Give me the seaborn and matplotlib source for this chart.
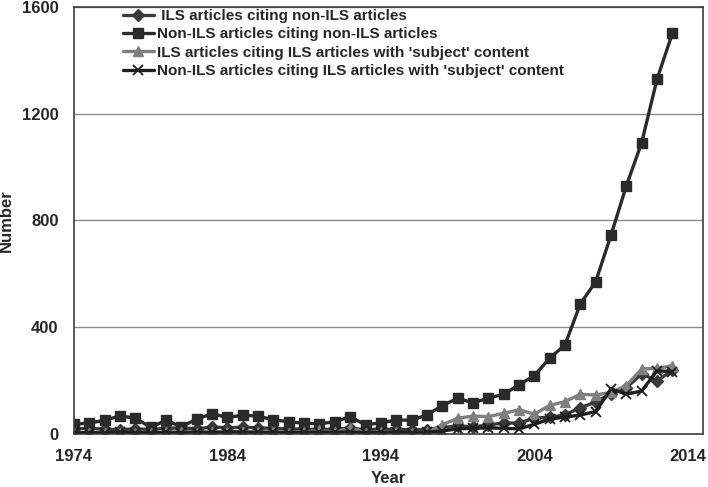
import matplotlib
matplotlib.use("Agg")
import matplotlib.pyplot as plt
import numpy as np
import pandas as pd
import seaborn as sns

years = list(range(1974, 2014))

ils_citing_non_ils = [
    18, 20, 17, 15, 18, 16, 20, 22, 18, 25, 22, 24, 22, 20, 18, 17, 15, 18, 20, 15,
    17, 16, 14, 15, 22, 30, 25, 33, 40, 40, 58, 62, 70, 98, 118, 150, 172, 225, 198, 238,
]
non_ils_citing_non_ils = [
    35, 40, 50, 67, 58, 24, 50, 26, 55, 75, 61, 69, 66, 52, 45, 39, 37, 45, 64, 33,
    41, 51, 51, 70, 105, 133, 116, 133, 148, 183, 218, 283, 333, 487, 570, 745, 930, 1092, 1330, 1502,
]
ils_citing_ils_subject = [
    2, 3, 2, 4, 3, 2, 5, 8, 4, 6, 5, 8, 6, 5, 4, 6, 12, 5, 22, 4,
    8, 5, 3, 6, 33, 58, 66, 64, 76, 90, 73, 106, 120, 148, 145, 155, 180, 243, 245, 255,
]
non_ils_citing_ils_subject = [
    3, 4, 3, 5, 4, 3, 5, 4, 6, 5, 7, 6, 5, 6, 4, 5, 6, 5, 7, 4,
    5, 6, 4, 5, 10, 18, 20, 22, 20, 18, 35, 55, 62, 70, 83, 168, 148, 160, 236, 233,
]

labels = [
    " ILS articles citing non-ILS articles",
    "Non-ILS articles citing non-ILS articles",
    "ILS articles citing ILS articles with 'subject' content",
    "Non-ILS articles citing ILS articles with 'subject' content",
]
x_ticks = [1974, 1984, 1994, 2004, 2014]
y_ticks = [0, 400, 800, 1200, 1600]

sns.set_style("white")
plt.rcParams["font.family"] = ["Liberation Sans", "DejaVu Sans"]
plt.rcParams["font.weight"] = "bold"

fig, ax = plt.subplots(figsize=(7.08, 4.87), dpi=100)
fig.subplots_adjust(left=0.1045, right=0.993, top=0.985, bottom=0.1095)

series = [ils_citing_non_ils, non_ils_citing_non_ils, ils_citing_ils_subject, non_ils_citing_ils_subject]
styles = [
    dict(marker="D", color="#3a3a3a", markersize=6, markeredgewidth=1),
    dict(marker="s", color="#2a2a2a", markersize=7.5, markeredgewidth=1),
    dict(marker="^", color="#7f7f7f", markersize=7.5, markeredgewidth=1),
    dict(marker="x", color="#1e1e1e", markersize=7, markeredgewidth=1.3),
]

for label, values, style in zip(labels, series, styles):
    frame = pd.DataFrame({"Year": years, "Number": values})
    sns.lineplot(
        data=frame, x="Year", y="Number", ax=ax, label=label,
        linewidth=2.4, markeredgecolor=style["color"], **style,
    )

ax.set_xlim(1974, 2015)
ax.set_ylim(0, 1600)
ax.set_xticks(x_ticks)
ax.set_yticks(y_ticks)
ax.yaxis.grid(True, color="#8a8a8a", linewidth=1)
ax.set_axisbelow(True)
for spine in ax.spines.values():
    spine.set_color("#3c3c3c")
    spine.set_linewidth(1.2)
ax.tick_params(axis="both", direction="out", length=4, width=1, color="#3c3c3c",
               labelsize=12, pad=7)
for lbl in ax.get_xticklabels() + ax.get_yticklabels():
    lbl.set_fontweight("bold")
ax.set_xlabel("Year", fontsize=12, fontweight="bold", labelpad=5)
ax.set_ylabel("Number", fontsize=12, fontweight="bold", labelpad=6)

ax.legend(
    loc="upper left", bbox_to_anchor=(0.075, 1.0), frameon=False,
    prop={"weight": "bold", "size": 11}, handlelength=2.0, handletextpad=0.2,
    labelspacing=0.28, borderaxespad=0, borderpad=0.12,
)

fig.savefig("out.png", dpi=100)
